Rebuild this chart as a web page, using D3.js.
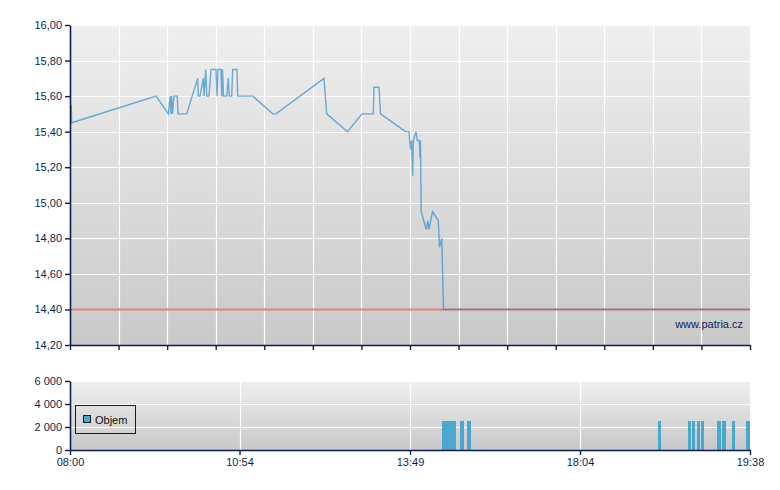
<!DOCTYPE html>
<html>
<head>
<meta charset="utf-8">
<script src="https://cdn.jsdelivr.net/npm/d3@7"></script>
<style>
  html, body { margin: 0; padding: 0; background: #ffffff; }
  svg { display: block; font-family: "Liberation Sans", Arial, sans-serif; }
</style>
</head>
<body>
<svg id="chart" width="780" height="490"></svg>
<script>
// ---------------- DATA ----------------
const priceTimes = [
  "08:01:15","08:01:45","09:28:20","09:40:55","09:42:57","09:43:40","09:44:23","09:45:01",
  "09:46:45","09:50:08","09:50:52","09:59:47","10:11:05","10:11:41","10:13:26","10:16:50",
  "10:17:33","10:19:17","10:20:19","10:22:41","10:24:44","10:29:52","10:30:53","10:31:55",
  "10:35:00","10:35:43","10:36:32","10:37:34","10:40:51","10:42:29","10:43:31","10:45:59",
  "10:47:00","10:51:25","10:52:08","11:07:32","11:28:04","11:31:27","12:20:43","12:23:30",
  "12:44:51","12:59:44","13:11:20","13:12:03","13:17:11","13:18:43","13:44:23","13:47:58",
  "13:49:45","13:51:15","13:53:03","13:53:57","13:58:00","13:59:57","14:02:57","14:04:00",
  "14:04:45","14:05:48","14:13:27","14:15:42","14:17:30","14:22:45","14:31:27","14:33:15",
  "14:36:42","14:39:15","19:38:00"
];
const priceValues = [
  15.55, 15.45, 15.60, 15.50, 15.60, 15.50, 15.60, 15.50,
  15.60, 15.60, 15.50, 15.50, 15.70, 15.60, 15.60, 15.70,
  15.60, 15.75, 15.60, 15.60, 15.75, 15.75, 15.60, 15.75,
  15.75, 15.60, 15.75, 15.60, 15.60, 15.70, 15.60, 15.60,
  15.75, 15.75, 15.60, 15.60, 15.50, 15.50, 15.70, 15.50,
  15.40, 15.50, 15.50, 15.65, 15.65, 15.50, 15.40, 15.40,
  15.30, 15.35, 15.15, 15.35, 15.40, 15.35, 15.35, 15.25,
  15.35, 14.95, 14.85, 14.90, 14.85, 14.95, 14.90, 14.75,
  14.80, 14.40, 14.40
];
const previousClose = 14.40;

const volumeTimes = [
  "14:39:38","14:44:53","14:50:08","14:55:22","15:06:47","15:17:17",
  "18:47:58","19:04:39","19:06:45","19:09:25","19:11:44","19:20:51",
  "19:23:31","19:28:52","19:36:53"
];
const volumeValues = [
  2500, 2500, 2500, 2500, 2500, 2500,
  2500, 2500, 2500, 2500, 2500, 2500,
  2500, 2500, 2500
];

const xTickLabels = ["08:00", "10:54", "13:49", "18:04", "19:38"];
const xBreaks = ["08:00", "13:49", "18:04", "19:38"];
const priceTicks = [14.2, 14.4, 14.6, 14.8, 15.0, 15.2, 15.4, 15.6, 15.8, 16.0];
const volumeTicks = [0, 2000, 4000, 6000];
const legendLabel = "Objem";
const watermark = "www.patria.cz";

// ---------------- SETUP ----------------
const parseHMS = d3.timeParse("%H:%M:%S");
const parseHM = d3.timeParse("%H:%M");
const locale = d3.formatLocale({ decimal: ",", thousands: " ", grouping: [3], currency: ["", " Kč"] });
const fmtPrice = locale.format(".2f");
const fmtVol = locale.format(",d");

const navy = "#0c1f4f";
const blue = "#4aa8d0";
const svg = d3.select("#chart");

const L = 70, R = 750;
const main = { top: 25, bottom: 345 };
const vol = { top: 381, bottom: 450 };

const x = d3.scaleTime()
  .domain(xBreaks.map(parseHM))
  .range([L, 410, 580, R]);

const yP = d3.scaleLinear().domain([14.2, 16.0]).range([main.bottom, main.top]);
const yV = d3.scaleLinear().domain([0, 6000]).range([vol.bottom, vol.top]);

const priceData = priceTimes.map((t, i) => ({ t: parseHMS(t), v: priceValues[i] }));
const volData = volumeTimes.map((t, i) => ({ t: parseHMS(t), v: volumeValues[i] }));

// gradients
const defs = svg.append("defs");
function grad(id, c1, c2) {
  const g = defs.append("linearGradient").attr("id", id)
    .attr("x1", 0).attr("y1", 0).attr("x2", 0).attr("y2", 1);
  g.append("stop").attr("offset", "0%").attr("stop-color", c1);
  g.append("stop").attr("offset", "100%").attr("stop-color", c2);
}
grad("gMain", "#efefef", "#c9c9c9");
grad("gVol", "#efefef", "#c8c8c8");

// ---------------- MAIN PANEL ----------------
svg.append("rect").attr("x", L).attr("y", main.top)
  .attr("width", R - L).attr("height", main.bottom - main.top)
  .attr("fill", "url(#gMain)");

// vertical gridlines: 14 equal intervals
const mainXTicks = d3.range(15).map(i => x.invert(L + i * (R - L) / 14));
const gMain = svg.append("g");
gMain.selectAll("line.vg").data(mainXTicks.slice(1)).join("line")
  .attr("x1", d => Math.round(x(d)) + 0.5).attr("x2", d => Math.round(x(d)) + 0.5)
  .attr("y1", main.top).attr("y2", main.bottom)
  .attr("stroke", "#ffffff").attr("stroke-width", 1.2);
gMain.selectAll("line.hg").data(priceTicks.slice(1)).join("line")
  .attr("x1", L).attr("x2", R)
  .attr("y1", d => Math.round(yP(d)) + 0.5).attr("y2", d => Math.round(yP(d)) + 0.5)
  .attr("stroke", "#ffffff").attr("stroke-width", 1.2);

// previous close reference
svg.append("line")
  .attr("x1", L).attr("x2", R)
  .attr("y1", yP(previousClose)).attr("y2", yP(previousClose))
  .attr("stroke", "#dc8080").attr("stroke-width", 2);

// price line
const line = d3.line().x(d => x(d.t)).y(d => yP(d.v));
svg.append("path").datum(priceData)
  .attr("d", line)
  .attr("fill", "none")
  .attr("stroke", "#2a8cc8")
  .attr("stroke-opacity", 0.68)
  .attr("stroke-width", 1.4)
  .attr("stroke-linejoin", "miter");

// watermark
svg.append("text").attr("x", 743).attr("y", 328)
  .attr("text-anchor", "end").attr("font-size", 11).attr("fill", navy)
  .text(watermark);

// axes main
svg.append("g").attr("transform", `translate(${L},0)`)
  .call(d3.axisLeft(yP).tickValues(priceTicks).tickFormat(fmtPrice).tickSize(5).tickSizeOuter(0).tickPadding(3));
svg.append("g").attr("transform", `translate(0,${main.bottom})`)
  .call(d3.axisBottom(x).tickValues(mainXTicks).tickFormat("").tickSize(5).tickSizeOuter(0));

// ---------------- VOLUME PANEL ----------------
svg.append("rect").attr("x", L).attr("y", vol.top)
  .attr("width", R - L).attr("height", vol.bottom - vol.top)
  .attr("fill", "url(#gVol)");

const volXTicks = xTickLabels.map(parseHM);
svg.append("g").selectAll("line").data(volXTicks.slice(1, -1)).join("line")
  .attr("x1", d => Math.round(x(d)) + 0.5).attr("x2", d => Math.round(x(d)) + 0.5)
  .attr("y1", vol.top).attr("y2", vol.bottom)
  .attr("stroke", "#ffffff").attr("stroke-width", 1.2);
svg.append("g").selectAll("line").data(volumeTicks.slice(1)).join("line")
  .attr("x1", L).attr("x2", R)
  .attr("y1", d => Math.round(yV(d)) + 0.5).attr("y2", d => Math.round(yV(d)) + 0.5)
  .attr("stroke", "#ffffff").attr("stroke-width", 1.2);

const halfW = 1.75;
const barLeft = d => Math.round(Math.min(x(d.t), R - halfW) - halfW);
const barRight = d => Math.round(Math.min(x(d.t), R - halfW) + halfW);
svg.append("g").attr("shape-rendering", "crispEdges")
  .selectAll("rect").data(volData).join("rect")
  .attr("x", barLeft)
  .attr("width", d => barRight(d) - barLeft(d))
  .attr("y", d => Math.round(yV(d.v)))
  .attr("height", d => Math.round(yV(0)) - Math.round(yV(d.v)))
  .attr("fill", blue);

// legend
const lg = svg.append("g");
lg.append("rect").attr("x", 75.5).attr("y", 405.5).attr("width", 60).attr("height", 28)
  .attr("fill", "none").attr("stroke", "#1a1a1a").attr("stroke-width", 1);
lg.append("rect").attr("x", 83.5).attr("y", 415.5).attr("width", 7).attr("height", 7)
  .attr("fill", blue).attr("stroke", "#1a1a1a").attr("stroke-width", 1);
lg.append("text").attr("x", 95).attr("y", 424).attr("font-size", 11).attr("fill", "#111")
  .text(legendLabel);

// axes volume
svg.append("g").attr("transform", `translate(${L},0)`)
  .call(d3.axisLeft(yV).tickValues(volumeTicks).tickFormat(fmtVol).tickSize(5).tickSizeOuter(0).tickPadding(3));
svg.append("g").attr("transform", `translate(0,${vol.bottom})`)
  .call(d3.axisBottom(x).tickValues(volXTicks).tickFormat((d, i) => xTickLabels[i]).tickSize(5).tickSizeOuter(0).tickPadding(3));

// axis styling
svg.selectAll(".domain").attr("stroke", navy).attr("stroke-width", 1.6);
svg.selectAll(".tick line").attr("stroke", navy).attr("stroke-width", 1.4);
svg.selectAll(".tick text").attr("fill", navy).attr("font-size", 11)
  .attr("font-family", "'Liberation Sans', Arial, sans-serif");
</script>
</body>
</html>
